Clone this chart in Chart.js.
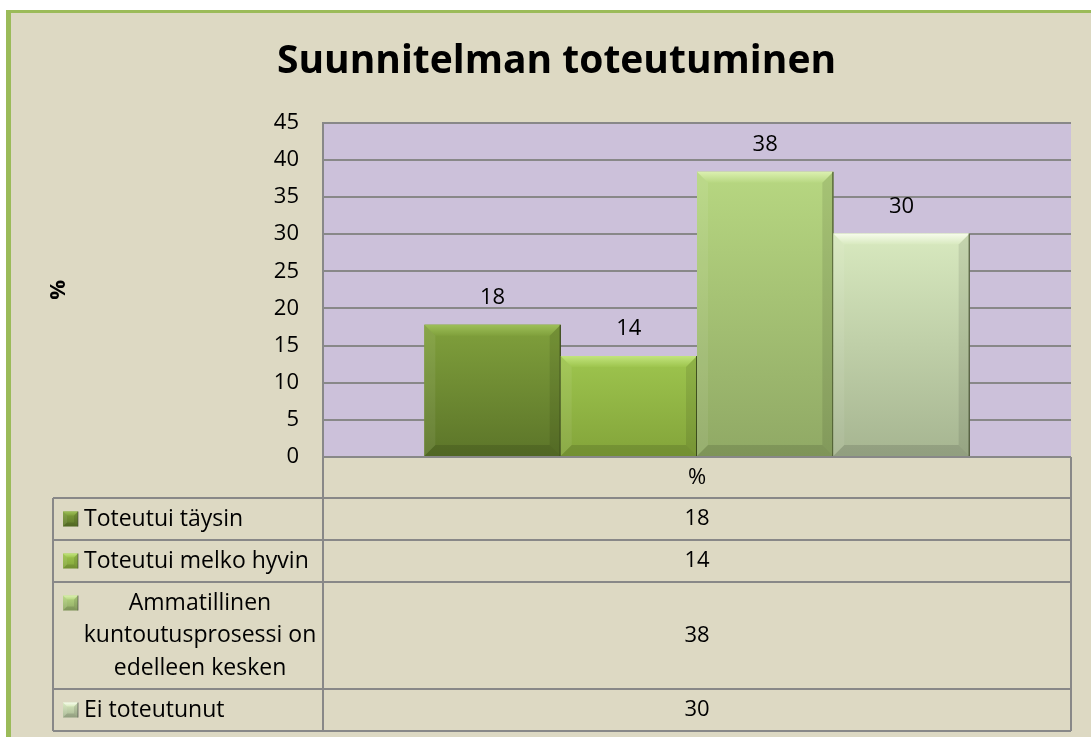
<!DOCTYPE html>
<html><head><meta charset="utf-8">
<script src="https://cdn.jsdelivr.net/npm/chart.js@4.4.1/dist/chart.umd.min.js"></script>
<style>html,body{margin:0;padding:0;background:#fff;}canvas{display:block;}</style>
</head><body>
<canvas id="c" width="1091" height="737"></canvas>
<script>
const chartTitle = 'Suunnitelman toteutuminen';
const categories = ['%'];
const seriesNames = ['Toteutui täysin', 'Toteutui melko hyvin', 'Ammatillinen kuntoutusprosessi on edelleen kesken', 'Ei toteutunut'];
const seriesValues = [17.8, 13.6, 38.4, 30.1];
const yAxisTitle = '%';
const yMin = 0, yMax = 45, yStep = 5;

const FONT = '"Open Sans", Lato, sans-serif';
const FS = 22;
const FS_LEG = 23;
const palette = [
  {top:'#80a03c', bottom:'#5c7529', light:'#9dbf58'},
  {top:'#9ec54e', bottom:'#83a43a', light:'#c2e47d'},
  {top:'#b7d781', bottom:'#90a965', light:'#dbf0b0'},
  {top:'#d8e9bf', bottom:'#a6b591', light:'#f7fcec'}
];
const GRID = '#888888';

function bevelBox(ctx, l, t, r, b, col, bev) {
  const bv = Math.min(bev, (b - t) / 2, (r - l) / 2);
  const g = ctx.createLinearGradient(0, t, 0, b);
  g.addColorStop(0, col.top); g.addColorStop(1, col.bottom);
  ctx.fillStyle = g; ctx.fillRect(l, t, r - l, b - t);
  const poly = (pts, fill) => { ctx.beginPath(); ctx.moveTo(pts[0][0], pts[0][1]); for (let i = 1; i < pts.length; i++) ctx.lineTo(pts[i][0], pts[i][1]); ctx.closePath(); ctx.fillStyle = fill; ctx.fill(); };
  const tg = ctx.createLinearGradient(0, t, 0, t + bv);
  tg.addColorStop(0, col.light); tg.addColorStop(1, col.top);
  poly([[l, t], [r, t], [r - bv, t + bv], [l + bv, t + bv]], tg);
  poly([[l, t], [l + bv, t + bv], [l + bv, b - bv], [l, b]], 'rgba(255,255,255,0.07)');
  poly([[r, t], [r - bv, t + bv], [r - bv, b - bv], [r, b]], 'rgba(0,0,0,0.09)');
  poly([[l, b], [l + bv, b - bv], [r - bv, b - bv], [r, b]], 'rgba(0,0,0,0.12)');
}

const framePlugin = {
  id: 'frame',
  beforeDraw(chart) {
    const ctx = chart.ctx, W = chart.width, H = chart.height;
    ctx.save();
    ctx.fillStyle = '#ffffff'; ctx.fillRect(0, 0, W, H);
    ctx.fillStyle = '#ddd9c3'; ctx.fillRect(6, 10, W - 6, H - 10);
    ctx.fillStyle = '#9bbb59'; ctx.fillRect(6, 10, 5, H - 10); ctx.fillRect(6, 10, W - 6, 3);
    const ca = chart.chartArea;
    ctx.fillStyle = '#ccc1da'; ctx.fillRect(ca.left, ca.top, ca.right - ca.left, ca.bottom - ca.top);
    ctx.restore();
  }
};

const barPlugin = {
  id: 'bevelBars',
  afterDatasetsDraw(chart) {
    const ctx = chart.ctx;
    ctx.save();
    chart.data.datasets.forEach((ds, i) => {
      const meta = chart.getDatasetMeta(i);
      meta.data.forEach((el, j) => {
        const p = el.getProps(['x', 'y', 'base', 'width'], true);
        const l = p.x - p.width / 2, r = p.x + p.width / 2;
        bevelBox(ctx, l, p.y, r, p.base, palette[i], 11);
        ctx.fillStyle = 'rgba(40,50,20,0.75)';
        ctx.fillRect(r - 1, p.y, 1.2, p.base - p.y);
        ctx.fillStyle = '#000';
        ctx.font = FS + 'px ' + FONT;
        ctx.textAlign = 'center'; ctx.textBaseline = 'middle';
        ctx.fillText(String(Math.round(ds.data[j])), p.x, p.y - 27);
      });
    });
    ctx.restore();
  }
};

function wrap(ctx, text, maxW) {
  const words = text.split(' '); const lines = []; let cur = '';
  words.forEach(w => {
    const test = cur ? cur + ' ' + w : w;
    if (ctx.measureText(test).width > maxW && cur) { lines.push(cur); cur = w; } else cur = test;
  });
  if (cur) lines.push(cur);
  return lines;
}

const tablePlugin = {
  id: 'dataTable',
  afterDraw(chart) {
    const ctx = chart.ctx, ca = chart.chartArea;
    const xs = chart.scales.x;
    const tLeft = 53, colX = ca.left, tRight = ca.right;
    const headerH = 41, lineH = 32.5, pad = 9.5;
    ctx.save();
    ctx.font = FS_LEG + 'px ' + FONT;
    const rows = seriesNames.map(n => wrap(ctx, n, 245));
    let y = ca.bottom;
    const ys = [y];
    y += headerH; ys.push(y);
    rows.forEach(lines => { y += lines.length * lineH + pad; ys.push(y); });
    const bottom = y;
    ctx.strokeStyle = GRID; ctx.lineWidth = 2;
    ctx.beginPath();
    ctx.moveTo(colX, ca.bottom); ctx.lineTo(colX, bottom);
    ctx.moveTo(tRight, ca.bottom); ctx.lineTo(tRight, bottom);
    ctx.moveTo(tLeft, ys[1]); ctx.lineTo(tLeft, bottom);
    ctx.moveTo(colX, ys[0]); ctx.lineTo(tRight, ys[0]);
    for (let k = 1; k < ys.length; k++) { ctx.moveTo(tLeft, ys[k]); ctx.lineTo(tRight, ys[k]); }
    ctx.stroke();
    ctx.fillStyle = '#000'; ctx.textBaseline = 'middle';
    ctx.textAlign = 'center';
    ctx.font = FS + 'px ' + FONT;
    categories.forEach((c, ci) => ctx.fillText(c, xs.getPixelForValue(ci), (ys[0] + ys[1]) / 2));
    rows.forEach((lines, i) => {
      const top = ys[i + 1], bot = ys[i + 2];
      const multi = lines.length > 1;
      const firstY = (top + bot) / 2 - (lines.length - 1) * lineH / 2;
      bevelBox(ctx, 63, firstY - 7.5, 78, firstY + 7.5, palette[i], 4);
      ctx.fillStyle = 'rgba(60,60,60,0.6)'; ctx.fillRect(77.5, firstY - 7.5, 1, 15);
      ctx.fillStyle = '#000';
      ctx.font = FS_LEG + 'px ' + FONT;
      lines.forEach((ln, k) => {
        if (multi) { ctx.textAlign = 'center'; ctx.fillText(ln, 200, firstY + k * lineH); }
        else { ctx.textAlign = 'left'; ctx.fillText(ln, 84, firstY + k * lineH); }
      });
      ctx.font = FS + 'px ' + FONT;
      ctx.textAlign = 'center';
      categories.forEach((c, ci) => ctx.fillText(String(Math.round(chart.data.datasets[i].data[ci])), xs.getPixelForValue(ci), (top + bot) / 2));
    });
    ctx.restore();
  }
};

new Chart(document.getElementById('c'), {
  type: 'bar',
  data: {
    labels: categories,
    datasets: seriesNames.map((n, i) => ({
      label: n,
      data: [seriesValues[i]],
      backgroundColor: palette[i].top,
      borderWidth: 0,
      barPercentage: 1,
      categoryPercentage: 0.729
    }))
  },
  options: {
    responsive: false,
    animation: false,
    layout: { padding: { left: 42, right: 20, top: 0, bottom: 280 } },
    plugins: {
      legend: { display: false },
      tooltip: { enabled: false },
      title: {
        display: true, text: chartTitle, color: '#000',
        font: { family: FONT, size: 39, weight: 'bold', lineHeight: 1.2 },
        padding: { top: 38, bottom: 38 }
      }
    },
    scales: {
      x: { display: false },
      y: {
        min: yMin, max: yMax,
        afterFit(s) { s.width = 281; },
        ticks: { stepSize: yStep, color: '#000', padding: 24, font: { family: FONT, size: FS } },
        grid: { color: GRID, lineWidth: 2, drawTicks: false },
        border: { color: GRID, width: 2 },
        title: { display: true, text: yAxisTitle, color: '#000', font: { family: FONT, size: FS, weight: 'bold' }, padding: { top: 4, bottom: 4 } }
      }
    }
  },
  plugins: [framePlugin, barPlugin, tablePlugin]
});
</script>
</body></html>
